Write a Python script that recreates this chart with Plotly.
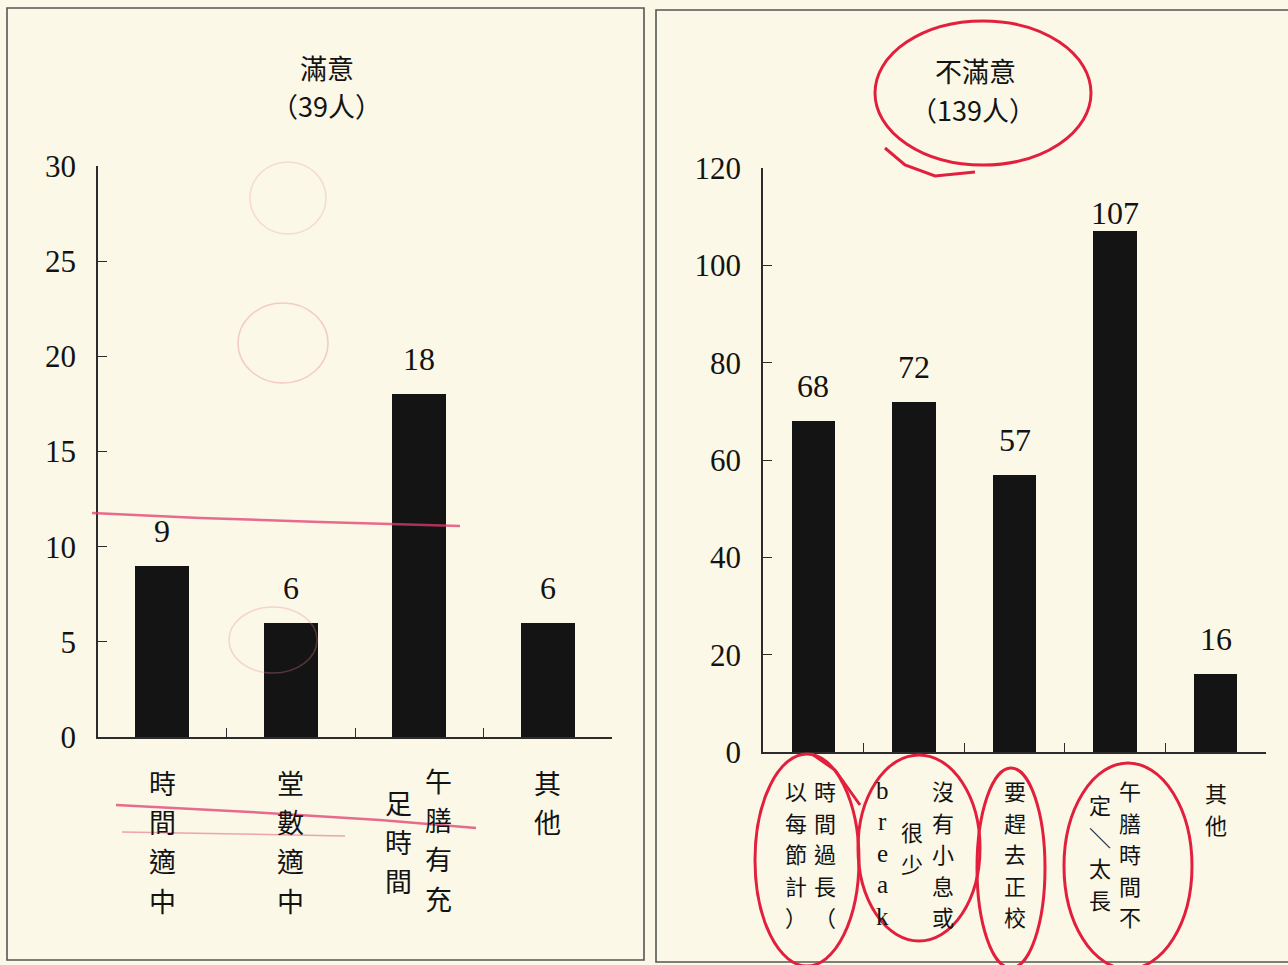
import plotly.graph_objects as go

# ---------------- data ----------------
sat_title = "滿意"
sat_count = "（39人）"
sat_categories = ["時間適中", "堂數適中", "午膳有充足時間", "其他"]
sat_values = [9, 6, 18, 6]
sat_label_columns = [["時間適中"], ["堂數適中"], ["午膳有充", "足時間"], ["其他"]]
sat_ticks = [0, 5, 10, 15, 20, 25, 30]

dis_title = "不滿意"
dis_count = "（139人）"
dis_categories = ["時間過長（以每節計）", "沒有小息或很少break", "要趕去正校", "午膳時間不定／太長", "其他"]
dis_values = [68, 72, 57, 107, 16]
dis_label_columns = [["時間過長（", "以每節計）"], ["沒有小息或", "很少", "break"], ["要趕去正校"],
                     ["午膳時間不", "定＼太長"], ["其他"]]
dis_ticks = [0, 20, 40, 60, 80, 100, 120]

# ---------------- style / layout ----------------
W, H = 1288, 965
BG = "rgb(251,248,231)"
INK = "#131313"
AXIS = "#2c2c2c"
RED = "rgb(226,32,62)"
SERIF = "Liberation Serif"
CJK = "Noto Sans CJK TC"


def px(x):
    return x / W


def py(y):
    return 1 - y / H


fig = go.Figure()

fig.add_trace(go.Bar(x=sat_categories, y=sat_values, marker=dict(color="#141414", line=dict(width=0)),
                     width=0.42, xaxis="x", yaxis="y", showlegend=False, hoverinfo="x+y"))
fig.add_trace(go.Bar(x=dis_categories, y=dis_values, marker=dict(color="#141414", line=dict(width=0)),
                     width=0.43, xaxis="x2", yaxis="y2", showlegend=False, hoverinfo="x+y"))

common_x = dict(type="category", showline=True, linecolor=AXIS, linewidth=1.5, ticks="inside",
                tickson="boundaries", ticklen=9, tickwidth=1.2, tickcolor=AXIS, automargin=False,
                showticklabels=False, showgrid=False, zeroline=False, fixedrange=True)
common_y = dict(showline=True, linecolor=AXIS, linewidth=1.5, ticks="inside", ticklen=9,
                tickwidth=1.2, tickcolor=AXIS, showgrid=False, zeroline=False, automargin=False,
                tickfont=dict(family=SERIF, size=31, color=INK), ticklabelstandoff=14,
                fixedrange=True)

fig.update_layout(
    width=W, height=H, autosize=False, margin=dict(l=0, r=0, t=0, b=0, pad=0, autoexpand=False),
    paper_bgcolor=BG, plot_bgcolor="rgba(0,0,0,0)", bargap=0,
    xaxis=dict(domain=[px(98), px(612)], range=[-0.5, len(sat_categories) - 0.5], anchor="y", **common_x),
    yaxis=dict(domain=[py(737), py(166)], range=[0, 30], tickvals=sat_ticks, anchor="x", **common_y),
    xaxis2=dict(domain=[px(763), px(1266)], range=[-0.5, len(dis_categories) - 0.5], anchor="y2", **common_x),
    yaxis2=dict(domain=[py(752), py(168)], range=[0, 120], tickvals=dis_ticks, anchor="x2", **common_y),
)

ann = []


def title(text, x, y, size):
    ann.append(dict(text=text, x=px(x), y=py(y), xref="paper", yref="paper", xanchor="center",
                    yanchor="middle", showarrow=False, font=dict(family=CJK, size=size, color=INK)))


title(sat_title, 327, 68, 27)
title(sat_count, 326, 106, 27)
title(dis_title, 975, 71, 27)
title(dis_count, 973, 109, 27)

# value labels
lift_default = 35
lift_override = {107: 18}
for xs, vals, ax, ay in [(sat_categories, sat_values, "x", "y"), (dis_categories, dis_values, "x2", "y2")]:
    for c, v in zip(xs, vals):
        ann.append(dict(text=str(v), x=c, y=v, xref=ax, yref=ay, showarrow=False, xanchor="center",
                        yanchor="middle", yshift=lift_override.get(v, lift_default),
                        font=dict(family=SERIF, size=32, color=INK)))

# vertical category labels: per column (right to left) x shift (px) and first-character centre y (px)
sat_col_pos = [[(0, 782)], [(0, 782)], [(19, 780), (-21, 802)], [(0, 782)]]
dis_col_pos = [[(12, 790), (-17, 790)], [(29, 790), (-2, 831), (-31, 790)], [(0, 790)],
               [(15, 790), (-15, 804)], [(0, 792)]]


def add_vertical(cats, cols, pos, ax, fs, step):
    for c, colset, pset in zip(cats, cols, pos):
        for text, (dx, y0) in zip(colset, pset):
            latin = text.isascii()
            for k, ch in enumerate(text):
                ann.append(dict(text=ch, x=c, xref=ax, y=py(y0 + k * step), yref="paper",
                                xanchor="center", yanchor="middle", xshift=dx, showarrow=False,
                                font=dict(family=SERIF if latin else CJK, size=fs + 3 if latin else fs,
                                          color=INK)))


add_vertical(sat_categories, sat_label_columns, sat_col_pos, "x", 27, 39.4)
add_vertical(dis_categories, dis_label_columns, dis_col_pos, "x2", 22, 31.6)

fig.update_layout(annotations=ann)

# ---------------- decorations: panel frames and hand-drawn red marks ----------------
shapes = []
shapes.append(dict(type="rect", xref="paper", yref="paper", x0=px(7), x1=px(644), y0=py(960), y1=py(8),
                   line=dict(color="#555555", width=1.6), layer="below"))
shapes.append(dict(type="rect", xref="paper", yref="paper", x0=px(656), x1=px(1300), y0=py(962), y1=py(10),
                   line=dict(color="#555555", width=1.6), layer="below"))


def ellipse(cx, cy, rx, ry, color=RED, width=3, opacity=1.0):
    return dict(type="circle", xref="paper", yref="paper", x0=px(cx - rx), x1=px(cx + rx),
                y0=py(cy + ry), y1=py(cy - ry), line=dict(color=color, width=width), opacity=opacity)


def path(points, color=RED, width=3, opacity=1.0):
    d = "M " + " L ".join(f"{px(a):.5f},{py(b):.5f}" for a, b in points)
    return dict(type="path", xref="paper", yref="paper", path=d,
                line=dict(color=color, width=width), opacity=opacity)


shapes.append(ellipse(983, 93, 108, 72))
shapes.append(path([(885, 148), (905, 165), (935, 176), (975, 172)]))
shapes.append(ellipse(807, 860, 52, 106))
shapes.append(path([(812, 754), (835, 770), (860, 805)]))
shapes.append(ellipse(919, 848, 61, 93))
shapes.append(ellipse(1011, 868, 34, 100))
shapes.append(ellipse(1128, 866, 64, 103))
shapes.append(path([(92, 513), (200, 518), (320, 522), (460, 526)], color="rgb(225,60,110)", width=2.5, opacity=0.75))
shapes.append(path([(116, 805), (250, 812), (380, 820), (476, 828)], color="rgb(225,60,110)", width=2.5, opacity=0.75))
shapes.append(path([(122, 832), (240, 834), (345, 836)], color="rgb(225,60,110)", width=1.5, opacity=0.45))
shapes.append(ellipse(283, 343, 45, 40, color="rgb(235,120,150)", width=1.5, opacity=0.35))
shapes.append(ellipse(273, 640, 44, 33, color="rgb(235,130,150)", width=1.5, opacity=0.3))
shapes.append(ellipse(288, 198, 38, 36, color="rgb(235,130,150)", width=1.5, opacity=0.25))

fig.update_layout(shapes=shapes)

fig.write_html("out.html", config={"responsive": False, "displayModeBar": False},
               post_script="document.body.style.margin='0';document.body.style.overflow='hidden';"
                           "document.documentElement.style.overflow='hidden';")
